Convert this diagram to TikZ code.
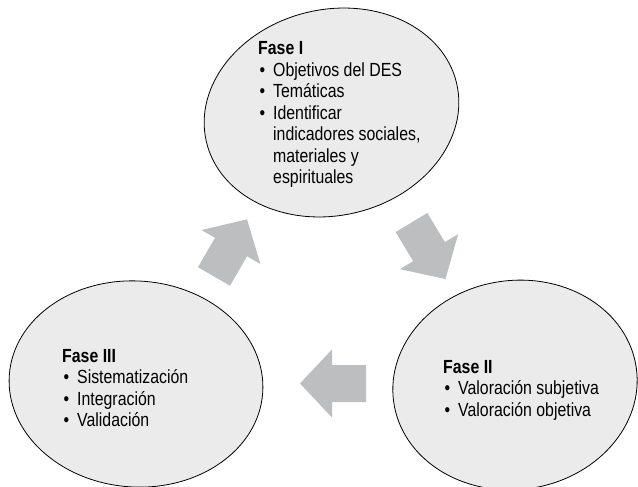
\documentclass[tikz,border=0pt]{standalone}
\usepackage{fontspec}
\setmainfont[FakeStretch=0.835]{Liberation Sans}
\usetikzlibrary{shapes.geometric}
\definecolor{ellfill}{HTML}{EBEBEC}
\definecolor{arrfill}{HTML}{BDBEC0}
\tikzset{
  phase/.style={ellipse, draw=black, line width=0.8pt, fill=ellfill, inner sep=0pt, outer sep=0pt},
  phasetext/.style={anchor=base west, inner sep=0pt, font=\fontsize{19}{21.5}\selectfont},
  blockarrow/.pic={\fill[arrfill] (0,-18.5) -- (34,-18.5) -- (34,-34) -- (66,0) -- (34,34) -- (34,18.5) -- (0,18.5) -- cycle;}
}
\newcommand{\bul}{\makebox[15pt][l]{\hspace{1.5pt}\textbullet}}
\begin{document}
\begin{tikzpicture}[x=1pt,y=-1pt]
\useasboundingbox (0,0) rectangle (638,487);
\clip (0,0) rectangle (638,487);
\node[phase, minimum width=257pt, minimum height=206pt, rotate=13] (f1) at (331.5,112.5) {};
\node[phase, minimum width=254pt, minimum height=206pt, rotate=-4] (f3) at (136,384) {};
\node[phase, minimum width=245pt, minimum height=209pt, rotate=8] (f2) at (515,385) {};
\node[phasetext] (t1) at (258,55) {\begin{tabular}[t]{@{}l@{}l@{}}
\multicolumn{2}{@{}l@{}}{\textbf{Fase I}}\\
\bul & Objetivos del DES\\
\bul & Temáticas\\
\bul & Identificar\\
 & indicadores sociales,\\
 & materiales y\\
 & espirituales
\end{tabular}};
\node[phasetext] (t2) at (443,373) {\begin{tabular}[t]{@{}l@{}l@{}}
\multicolumn{2}{@{}l@{}}{\textbf{Fase II}}\\
\bul & Valoración subjetiva\\
\bul & Valoración objetiva
\end{tabular}};
\node[phasetext] (t3) at (62,362) {\begin{tabular}[t]{@{}l@{}l@{}}
\multicolumn{2}{@{}l@{}}{\textbf{Fase III}}\\
\bul & Sistematización\\
\bul & Integración\\
\bul & Validación
\end{tabular}};
\pic[rotate=60] (a31) at (214,276.5) {blockarrow};
\pic[rotate=-59] (a12) at (411.5,222.5) {blockarrow};
\pic[rotate=180] (a23) at (366,383.5) {blockarrow};
\end{tikzpicture}
\end{document}
